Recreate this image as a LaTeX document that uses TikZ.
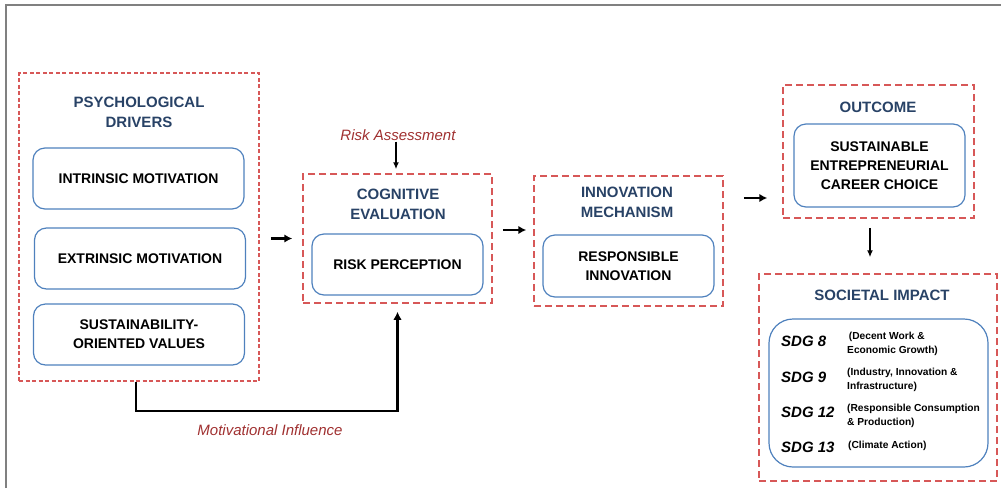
\documentclass[tikz,border=0pt]{standalone}
\usepackage{fontspec}
\setmainfont{Liberation Sans}
\usetikzlibrary{arrows,arrows.meta,shapes,positioning,calc}

\definecolor{dashred}{RGB}{215,88,88}
\definecolor{titleblue}{RGB}{40,66,102}
\definecolor{boxblue}{RGB}{79,129,189}
\definecolor{labelred}{RGB}{160,48,48}
\definecolor{framegray}{RGB}{128,128,128}

\begin{document}
\begin{tikzpicture}[x=1pt, y=-1pt,
		group/.style={rectangle, draw=dashred, line width=1.5pt, dash pattern=on 7pt off 4pt},
		grouptitle/.style={align=center, inner sep=0pt, text=titleblue, font=\fontsize{15}{20}\selectfont\bfseries},
		item/.style={rectangle, rounded corners=12pt, draw=boxblue, line width=1.2pt, align=center, font=\fontsize{14}{19}\selectfont\bfseries},
		note/.style={inner sep=0pt, text=labelred, font=\fontsize{15}{18}\selectfont\itshape},
		flow/.style={->, >={Latex[length=8pt,width=8.5pt]}, line width=2.5pt},
		thinflow/.style={->, >={Latex[length=7pt,width=6pt]}, line width=1.4pt},
		sdg/.style={anchor=west, inner sep=0pt, font=\fontsize{15}{18}\selectfont\bfseries\itshape},
		goal/.style={anchor=west, inner sep=0pt, align=left, font=\fontsize{10.2}{14}\selectfont\bfseries}]
		\useasboundingbox (0,0) rectangle (1001,488);
		\draw[framegray, line width=2pt] (6,488) -- (6,5) -- (1001,5);
		
		% groups
		\node[group, minimum width=240pt, minimum height=308pt, dash pattern=on 4pt off 2.5pt] (g1) at (139,227) {};
		\node[group, minimum width=189pt, minimum height=129pt] (g2) at (397.5,238.5) {};
		\node[group, minimum width=189pt, minimum height=130pt] (g3) at (628.5,241) {};
		\node[group, minimum width=191pt, minimum height=133pt] (g4) at (878.5,151.5) {};
		\node[group, minimum width=238pt, minimum height=207pt] (g5) at (878,377.5) {};
		
		\node[grouptitle] (t1) at (139,112) {PSYCHOLOGICAL\\DRIVERS};
		\node[grouptitle] (t2) at (398,204) {COGNITIVE\\EVALUATION};
		\node[grouptitle] (t3) at (627,202.5) {INNOVATION\\MECHANISM};
		\node[grouptitle] (t4) at (878,107) {OUTCOME};
		\node[grouptitle] (t5) at (882,295) {SOCIETAL IMPACT};
		
		% inner boxes
		\node[item, minimum width=211pt, minimum height=61pt] (intrinsic) at (138.5,178.5) {INTRINSIC MOTIVATION};
		\node[item, minimum width=211pt, minimum height=61pt] (extrinsic) at (140,258.5) {EXTRINSIC MOTIVATION};
		\node[item, minimum width=211pt, minimum height=61pt] (values) at (139,334.5) {SUSTAINABILITY-\\ORIENTED VALUES};
		\node[item, minimum width=171pt, minimum height=61pt] (risk) at (397.5,264.5) {RISK PERCEPTION};
		\node[item, minimum width=171pt, minimum height=62pt] (respinno) at (628.5,266) {RESPONSIBLE\\INNOVATION};
		\node[item, minimum width=171pt, minimum height=83pt] (career) at (879.5,165.5) {SUSTAINABLE\\ENTREPRENEURIAL\\CAREER CHOICE};
		\node[item, minimum width=219pt, minimum height=148pt, rounded corners=24pt] (sdgbox) at (878.5,393) {};
		
		% SDG list
		\node[sdg] (sdg8) at (781,341) {SDG 8};
		\node[goal] (sdg8txt) at (847,343.5) {\,(Decent Work \&\\Economic Growth)};
		\node[sdg] (sdg9) at (781,377) {SDG 9};
		\node[goal] (sdg9txt) at (847,379.5) {(Industry, Innovation \&\\Infrastructure)};
		\node[sdg] (sdg12) at (781,412.5) {SDG 12};
		\node[goal] (sdg12txt) at (847,415.5) {(Responsible Consumption\\\& Production)};
		\node[sdg] (sdg13) at (781,447) {SDG 13};
		\node[goal] (sdg13txt) at (848,446) {(Climate Action)};
		
		% labels
		\node[note] (assess) at (398,135) {Risk Assessment};
		\node[note] (motiv) at (270,430) {Motivational Influence};
		
		% connectors
		\draw[flow, shorten <=11pt, shorten >=10pt] (g1.east |- g2.west) -- (g2.west);
		\draw[flow, shorten <=10pt, shorten >=7pt] ([yshift=8.5pt]g2.east) -- ([yshift=8.5pt]g2.east -| g3.west);
		\draw[flow, shorten <=20pt, shorten >=15pt] ([yshift=43pt]g3.east) -- ([yshift=43pt]g3.east -| g4.west);
		\draw[thinflow, shorten <=1pt, shorten >=4pt] ([xshift=-2pt]assess.south) -- ([xshift=-2pt]assess.south |- g2.north);
		\draw[thinflow, shorten <=9pt, shorten >=16pt] ([xshift=-8.5pt]g4.south) -- ([xshift=-8.5pt]g4.south |- g5.north);
		\draw[flow, shorten >=8pt] ([xshift=-3pt]g1.south) -- ++(0,29) -| (g2.south);
	\end{tikzpicture}
\end{document}
